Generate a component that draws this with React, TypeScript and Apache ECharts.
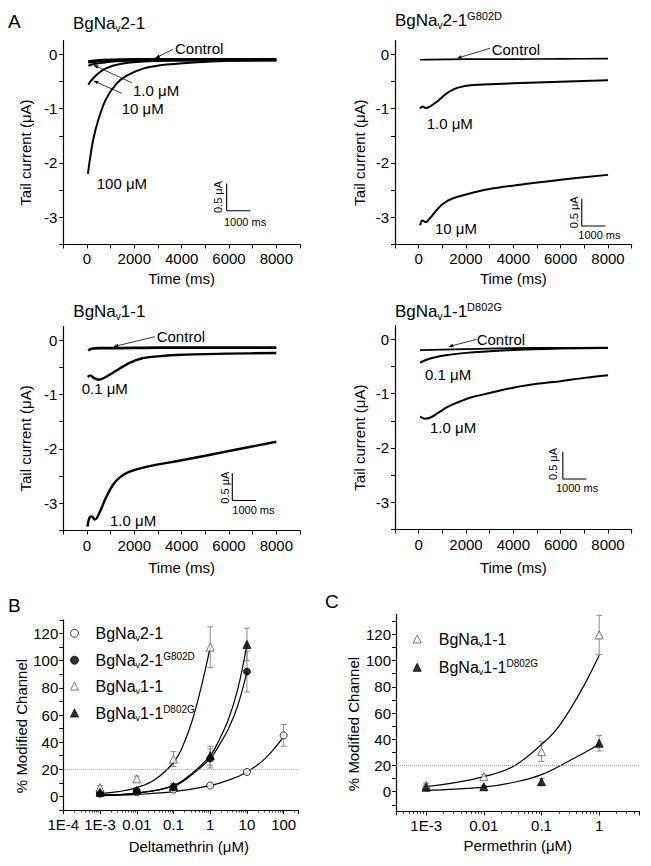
import React, { useEffect, useRef } from "react";
import * as echarts from "echarts";

const FONT = "'Liberation Sans', Arial, Helvetica, sans-serif";

// ---------------- Panel A: tail current traces (time ms, current μA) ----------------
// A1 BgNav2-1
const a1ControlT = [50, 500, 1000, 2000, 4000, 6000, 8000];
const a1ControlI = [-0.14, -0.12, -0.11, -0.1, -0.1, -0.1, -0.1];
const a1Dose1T = [60, 300, 700, 1200, 1800, 2500, 4000, 8000];
const a1Dose1I = [-0.21, -0.18, -0.155, -0.13, -0.115, -0.105, -0.1, -0.1];
const a1Dose10T = [60, 150, 400, 800, 1400, 2400, 3800, 5500, 8000];
const a1Dose10I = [-0.56, -0.5, -0.38, -0.26, -0.18, -0.135, -0.115, -0.105, -0.1];
const a1Dose100T = [40, 120, 250, 470, 800, 1250, 1700, 2400, 3100, 4500, 6000, 8000];
const a1Dose100I = [-2.2, -1.95, -1.6, -1.22, -0.83, -0.54, -0.39, -0.26, -0.2, -0.15, -0.12, -0.11];

// A2 BgNav2-1 G802D
const a2ControlT = [60, 2000, 4000, 6000, 8000];
const a2ControlI = [-0.1, -0.09, -0.09, -0.085, -0.08];
const a2Dose1T = [60, 150, 300, 450, 750, 1150, 1500, 1800, 2200, 3000, 5000, 8000];
const a2Dose1I = [-1.0, -0.96, -0.99, -0.97, -0.88, -0.73, -0.64, -0.6, -0.57, -0.55, -0.52, -0.48];
const a2Dose10T = [60, 150, 300, 450, 700, 1000, 1400, 2000, 3000, 4500, 6000, 8000];
const a2Dose10I = [-3.15, -3.06, -3.09, -3.03, -2.9, -2.76, -2.66, -2.58, -2.48, -2.39, -2.31, -2.22];

// A3 BgNav1-1
const a3ControlT = [50, 200, 500, 1000, 3000, 6000, 8000];
const a3ControlI = [-0.19, -0.16, -0.15, -0.15, -0.14, -0.14, -0.14];
const a3Dose01T = [30, 150, 300, 500, 800, 1100, 1400, 1800, 2300, 3000, 4000, 6000, 8000];
const a3Dose01I = [-0.68, -0.65, -0.7, -0.73, -0.68, -0.6, -0.52, -0.42, -0.34, -0.3, -0.27, -0.25, -0.24];
const a3Dose1T = [20, 100, 200, 330, 550, 800, 1100, 1400, 1800, 2500, 4000, 6000, 8000];
const a3Dose1I = [-3.43, -3.27, -3.24, -3.3, -3.15, -2.9, -2.66, -2.52, -2.42, -2.33, -2.21, -2.04, -1.87];

// A4 BgNav1-1 D802G
const a4ControlT = [60, 1000, 3000, 5000, 8000];
const a4ControlI = [-0.2, -0.19, -0.17, -0.16, -0.155];
const a4Dose01T = [60, 300, 700, 1200, 2000, 3000, 4500, 6000, 8000];
const a4Dose01I = [-0.43, -0.38, -0.33, -0.29, -0.25, -0.22, -0.19, -0.17, -0.16];
const a4Dose1T = [60, 250, 500, 800, 1200, 1600, 2200, 3000, 4000, 5000, 6000, 7000, 8000];
const a4Dose1I = [-1.42, -1.46, -1.44, -1.36, -1.25, -1.17, -1.07, -0.99, -0.89, -0.82, -0.77, -0.71, -0.66];

// scale bars (0.5 μA x 1000 ms), in data units
const scaleBarA1 = [[5900, -2.38], [5900, -2.88], [6900, -2.88]];
const scaleBarA2 = [[6890, -2.66], [6890, -3.16], [7890, -3.16]];
const scaleBarA3 = [[6140, -2.45], [6140, -2.95], [7140, -2.95]];
const scaleBarA4 = [[6090, -2.07], [6090, -2.57], [7090, -2.57]];

// ---------------- Panel B: deltamethrin dose response ----------------
const concB6 = [0.001, 0.01, 0.1, 1, 10, 100];
const concB5 = [0.001, 0.01, 0.1, 1, 10];
const concB4 = [0.001, 0.01, 0.1, 1];
const bV21 = [2, 3, 5, 8, 18, 45];
const bV21Err = [1, 1, 1, 1, 1.5, 8];
const bG802D = [3, 4, 7, 28, 92];
const bG802DErr = [1, 1, 1.5, 7, 15];
const bV11 = [6.5, 13, 27.5, 110];
const bV11Err = [1.5, 2, 5.5, 15];
const bD802G = [3, 4.5, 7.5, 30, 112];
const bD802GErr = [1, 1, 2, 7, 12];

const fitBV21Conc = [0.001, 0.01, 0.1, 1, 3.16, 10, 31.6, 100];
const fitBV21Val = [0.5, 1.5, 3.5, 8, 12, 18, 28, 44];
const fitBG802DConc = [0.001, 0.01, 0.1, 0.316, 1, 1.78, 3.16, 5.62, 10];
const fitBG802DVal = [1, 2.5, 7.5, 16, 28, 38, 50, 67, 92];
const fitBV11Conc = [0.001, 0.00316, 0.01, 0.0316, 0.1, 0.178, 0.316, 0.562, 1];
const fitBV11Val = [2, 3.5, 6.5, 12.5, 25, 37, 55, 80, 110];
const fitBD802GConc = [0.001, 0.01, 0.1, 0.316, 1, 1.78, 3.16, 5.62, 10];
const fitBD802GVal = [1, 2.5, 8, 17, 30, 42, 57, 79, 112];

// ---------------- Panel C: permethrin dose response ----------------
const concC = [0.001, 0.01, 0.1, 1];
const cV11 = [5, 11.5, 30.5, 119.5];
const cV11Err = [1.5, 1.5, 7.5, 15];
const cD802G = [3.4, 3.8, 7.6, 37];
const cD802GErr = [1, 1, 2.5, 6];
const fitCV11Conc = [0.001, 0.00316, 0.01, 0.0316, 0.1, 0.178, 0.316, 0.562, 1];
const fitCV11Val = [4, 7, 11.5, 19, 36, 47, 63, 82, 104];
const fitCD802GConc = [0.001, 0.00316, 0.01, 0.0316, 0.1, 0.316, 1];
const fitCD802GVal = [1, 2, 3.5, 7, 13, 24, 36];

// ---------------- tick values / labels ----------------
const timeTicks = [-1000, 0, 1000, 2000, 3000, 4000, 5000, 6000, 7000, 8000, 9000];
const timeLabels = [0, 2000, 4000, 6000, 8000];
const currentTicks = [-3.5, -3, -2.5, -2, -1.5, -1, -0.5, 0];
const currentLabels = [-3, -2, -1, 0];
const pctTicks = [-10, 0, 10, 20, 30, 40, 50, 60, 70, 80, 90, 100, 110, 120, 130];
const pctLabels = [0, 20, 40, 60, 80, 100, 120];
const decadeNames = ["1E-4", "1E-3", "0.01", "0.1", "1", "10", "100"];
const minorMultipliers = [2, 3, 4, 5, 6, 7, 8, 9];

const zip = (xs: number[], ys: number[]) => xs.map((x, i) => [x, ys[i]]);

const grids = [
  { left: 63.3, top: 40.7, width: 236.7, height: 203.7 },
  { left: 395, top: 40.7, width: 236.7, height: 203.7 },
  { left: 63.3, top: 326.4, width: 236.7, height: 204.1 },
  { left: 395, top: 325.7, width: 236.7, height: 203.8 },
  { left: 63.3, top: 620, width: 235, height: 190 },
  { left: 396, top: 614.6, width: 243.5, height: 196.8 },
];

const B_MIN = 1e-4, B_MAX = 250, C_MIN = 3e-4, C_MAX = 5;

function minorLogTicks(lo: number, hi: number) {
  const out: number[] = [];
  const l0 = Math.log10(lo), l1 = Math.log10(hi);
  for (let d = Math.floor(l0); d <= Math.ceil(l1); d++) {
    for (const k of minorMultipliers) {
      const l = Math.log10(k) + d;
      if (l > l0 + 1e-6 && l < l1 - 1e-6) out.push(l);
    }
  }
  return out;
}

const axisText = { fontSize: 14, color: "#000", fontFamily: FONT };
const nameText = { fontSize: 15, color: "#000", fontFamily: FONT };
const lineStyleBlack = { color: "#000", width: 1.2 };
const plain = (v: number) => String(v);

function timeAxis(gi: number, nameGap: number) {
  return {
    type: "value", gridIndex: gi, min: -1000, max: 9000,
    axisLine: { show: true, onZero: false, lineStyle: lineStyleBlack },
    axisTick: { show: true, customValues: timeTicks, length: 4, lineStyle: { color: "#000", width: 1 } },
    axisLabel: { customValues: timeLabels, ...axisText, fontSize: 15, margin: 7, formatter: plain },
    splitLine: { show: false },
    name: "Time (ms)", nameLocation: "middle", nameGap, nameTextStyle: nameText,
  };
}
function currentAxis(gi: number, nameGap: number) {
  return {
    type: "value", gridIndex: gi, min: -3.5, max: 0.25,
    axisLine: { show: true, onZero: false, lineStyle: lineStyleBlack },
    axisTick: { show: true, customValues: currentTicks, length: 4, lineStyle: { color: "#000", width: 1 } },
    axisLabel: { customValues: currentLabels, ...axisText, fontSize: 15, margin: 6, formatter: plain },
    splitLine: { show: false },
    name: "Tail current (μA)", nameLocation: "middle", nameGap, nameRotate: 90,
    nameTextStyle: { ...nameText, padding: [0, 20, 0, 0] },
  };
}
function pctAxis(gi: number, min: number, max: number, nameGap: number) {
  return {
    type: "value", gridIndex: gi, min, max,
    axisLine: { show: true, onZero: false, lineStyle: lineStyleBlack },
    axisTick: { show: true, customValues: pctTicks, length: 4, lineStyle: { color: "#000", width: 1 } },
    axisLabel: { customValues: pctLabels, ...axisText, fontSize: 15, margin: 5, formatter: plain },
    splitLine: { show: false },
    name: "% Modified Channel", nameLocation: "middle", nameGap, nameRotate: 90,
    nameTextStyle: { ...nameText, padding: [0, 22, 0, 0] },
  };
}
function decadeLabel(v: number) {
  const l = Math.log10(v);
  const e = Math.round(l);
  if (Math.abs(l - e) > 0.02) return "";
  return decadeNames[e + 4] ?? "";
}
function logAxis(gi: number, min: number, max: number, name: string, nameGap: number, pad: number[]) {
  return {
    type: "log", logBase: 10, gridIndex: gi, min, max,
    axisLine: { show: true, onZero: false, lineStyle: lineStyleBlack },
    axisTick: { show: true, length: 4, lineStyle: { color: "#000", width: 1 } },
    axisLabel: { ...axisText, fontSize: 15, margin: 7, formatter: decadeLabel, hideOverlap: false },
    splitLine: { show: false },
    name, nameLocation: "middle", nameGap, nameTextStyle: { ...nameText, padding: pad },
  };
}
function minorLogAxis(gi: number, min: number, max: number, height: number) {
  return {
    type: "value", gridIndex: gi, min: Math.log10(min), max: Math.log10(max),
    position: "top", offset: -height, silent: true,
    axisLine: { show: false },
    axisTick: { show: true, inside: true, length: 2.5, customValues: minorLogTicks(min, max), lineStyle: { color: "#000", width: 0.8 } },
    axisLabel: { show: false },
    splitLine: { show: false },
  };
}

function trace(gi: number, t: number[], I: number[], width = 2, smooth = 0.3) {
  return {
    type: "line", xAxisIndex: gi, yAxisIndex: gi, data: zip(t, I),
    symbol: "none", showSymbol: false, smooth, silent: true,
    lineStyle: { color: "#000", width }, z: 2,
  };
}
function scaleBar(gi: number, pts: number[][]) {
  return {
    type: "line", xAxisIndex: gi, yAxisIndex: gi, data: pts, symbol: "none",
    silent: true, lineStyle: { color: "#000", width: 1.1 }, z: 2,
  };
}
function fit(gi: number, c: number[], v: number[], extra: any = {}) {
  return {
    type: "line", xAxisIndex: gi, yAxisIndex: gi, data: zip(c, v),
    symbol: "none", showSymbol: false, smooth: 0.4, silent: true,
    lineStyle: { color: "#000", width: 1.2 }, z: 3, ...extra,
  };
}
function errBars(gi: number, c: number[], v: number[], e: number[]) {
  return {
    type: "custom", xAxisIndex: gi, yAxisIndex: gi, silent: true, z: 1,
    data: c.map((x, i) => [x, v[i], e[i]]),
    encode: { x: 0, y: 1 },
    renderItem: (params: any, api: any) => {
      const x = api.value(0), y = api.value(1), er = api.value(2);
      const top = api.coord([x, y + er]);
      const bot = api.coord([x, y - er]);
      const hw = 3;
      const st = { stroke: "#8a8a8a", lineWidth: 1 };
      return {
        type: "group",
        children: [
          { type: "line", shape: { x1: top[0], y1: top[1], x2: bot[0], y2: bot[1] }, style: st },
          { type: "line", shape: { x1: top[0] - hw, y1: top[1], x2: top[0] + hw, y2: top[1] }, style: st },
          { type: "line", shape: { x1: bot[0] - hw, y1: bot[1], x2: bot[0] + hw, y2: bot[1] }, style: st },
        ],
      };
    },
  };
}
const openCircle = { color: "#fff", borderColor: "#000", borderWidth: 1 };
const filledBlack = { color: "#000", borderColor: "#000", borderWidth: 1 };
const openTri = { color: "#fff", borderColor: "#555", borderWidth: 1 };
function scatter(gi: number, name: string, c: number[], v: number[], symbol: string, size: number, itemStyle: any) {
  return {
    type: "scatter", name, xAxisIndex: gi, yAxisIndex: gi, data: zip(c, v),
    symbol, symbolSize: size, itemStyle, silent: true, z: 5,
  };
}

// ---- graphic helpers ----
function txt(x: number, y: number, text: string, size = 15, align = "left") {
  return {
    type: "text", x, y, silent: true,
    style: { text, fontSize: size, fontFamily: FONT, fill: "#000", align, verticalAlign: "middle" },
  };
}
function vtxt(x: number, y: number, text: string, size = 11) {
  return {
    type: "text", x, y, rotation: Math.PI / 2, silent: true,
    style: { text, fontSize: size, fontFamily: FONT, fill: "#000", align: "center", verticalAlign: "middle" },
  };
}
function arrow(x1: number, y1: number, x2: number, y2: number) {
  const ang = Math.atan2(y2 - y1, x2 - x1);
  const L = 5, W = 1.8;
  const bx = x2 - L * Math.cos(ang), by = y2 - L * Math.sin(ang);
  const nx = -Math.sin(ang) * W, ny = Math.cos(ang) * W;
  return [
    { type: "line", silent: true, shape: { x1, y1, x2: bx, y2: by }, style: { stroke: "#000", lineWidth: 0.8 } },
    { type: "polygon", silent: true, shape: { points: [[x2, y2], [bx + nx, by + ny], [bx - nx, by - ny]] }, style: { fill: "#000" } },
  ];
}
const titleRich = {
  n: { fontSize: 17, fontFamily: FONT, fill: "#000", lineHeight: 20 },
  s: { fontSize: 10, fontFamily: FONT, fill: "#000", lineHeight: 10, verticalAlign: "bottom" },
  p: { fontSize: 11, fontFamily: FONT, fill: "#000", lineHeight: 10, verticalAlign: "top" },
};
function title(x: number, y: number, text: string) {
  return {
    type: "text", x, y, silent: true,
    style: { text, rich: titleRich, align: "left", verticalAlign: "middle", fontFamily: FONT, fontSize: 17, fill: "#000" },
  };
}

const legendRichText: Record<string, string> = {
  "BgNav2-1": "{g|}{n|BgNa}{s|v}{n|2-1}",
  "BgNav2-1G802D": "{g|}{n|BgNa}{s|v}{n|2-1}{p|G802D}",
  "BgNav1-1": "{g|}{n|BgNa}{s|v}{n|1-1}",
  "BgNav1-1D802G": "{g|}{n|BgNa}{s|v}{n|1-1}{p|D802G}",
};
function legendRich(gap: number) {
  return {
    g: { width: gap },
    n: { fontSize: 16, fontFamily: FONT, color: "#000", lineHeight: 18 },
    s: { fontSize: 9, fontFamily: FONT, color: "#000", lineHeight: 9, verticalAlign: "bottom" },
    p: { fontSize: 10, fontFamily: FONT, color: "#000", lineHeight: 9, verticalAlign: "top" },
  };
}

export default function App() {
  const ref = useRef<HTMLDivElement>(null);
  useEffect(() => {
    if (!ref.current) return;
    const chart = echarts.init(ref.current, null, { renderer: "svg" });
    const option: any = {
      animation: false,
      backgroundColor: "#fff",
      grid: grids.map((g) => ({ ...g, containLabel: false, outerBoundsMode: "none" })),
      xAxis: [
        timeAxis(0, 27),
        timeAxis(1, 27),
        timeAxis(2, 29),
        timeAxis(3, 30),
        logAxis(4, B_MIN, B_MAX, "Deltamethrin (μM)", 29, [0, 0, 0, 16]),
        logAxis(5, C_MIN, C_MAX, "Permethrin (μM)", 27, [0, 0, 0, 0]),
        minorLogAxis(4, B_MIN, B_MAX, grids[4].height),
        minorLogAxis(5, C_MIN, C_MAX, grids[5].height),
      ],
      yAxis: [
        currentAxis(0, 30),
        currentAxis(1, 28),
        currentAxis(2, 30),
        currentAxis(3, 28),
        pctAxis(4, -10, 130, 32),
        pctAxis(5, -15, 135, 35),
      ],
      legend: [
        {
          orient: "vertical", left: 70, top: 625.3, itemWidth: 8, itemHeight: 8, itemGap: 8.9,
          selectedMode: false, padding: 0,
          data: [
            { name: "BgNav2-1", icon: "circle", itemStyle: openCircle },
            { name: "BgNav2-1G802D", icon: "circle", itemStyle: filledBlack },
            { name: "BgNav1-1", icon: "triangle", itemStyle: openTri },
            { name: "BgNav1-1D802G", icon: "triangle", itemStyle: filledBlack },
          ],
          formatter: (name: string) => legendRichText[name] || name,
          textStyle: { rich: legendRich(12) },
        },
        {
          orient: "vertical", left: 412.7, top: 631, itemWidth: 8, itemHeight: 8, itemGap: 10.3,
          selectedMode: false, padding: 0,
          data: [
            { name: "BgNav1-1", icon: "triangle", itemStyle: openTri },
            { name: "BgNav1-1D802G", icon: "triangle", itemStyle: filledBlack },
          ],
          formatter: (name: string) => legendRichText[name] || name,
          textStyle: { rich: legendRich(12.6) },
        },
      ],
      series: [
        // A1
        trace(0, a1Dose100T, a1Dose100I),
        trace(0, a1Dose10T, a1Dose10I),
        trace(0, a1Dose1T, a1Dose1I),
        trace(0, a1ControlT, a1ControlI, 3.5),
        scaleBar(0, scaleBarA1),
        // A2
        trace(1, a2ControlT, a2ControlI, 1.6),
        trace(1, a2Dose1T, a2Dose1I),
        trace(1, a2Dose10T, a2Dose10I),
        scaleBar(1, scaleBarA2),
        // A3
        trace(2, a3ControlT, a3ControlI, 2.6),
        trace(2, a3Dose01T, a3Dose01I, 2.4),
        trace(2, a3Dose1T, a3Dose1I, 2.4, 0.4),
        scaleBar(2, scaleBarA3),
        // A4
        trace(3, a4ControlT, a4ControlI, 1.8),
        trace(3, a4Dose01T, a4Dose01I),
        trace(3, a4Dose1T, a4Dose1I),
        scaleBar(3, scaleBarA4),
        // B
        errBars(4, concB6, bV21, bV21Err),
        errBars(4, concB5, bG802D, bG802DErr),
        errBars(4, concB4, bV11, bV11Err),
        errBars(4, concB5, bD802G, bD802GErr),
        fit(4, fitBV21Conc, fitBV21Val, {
          markLine: {
            silent: true, symbol: "none", label: { show: false },
            lineStyle: { type: "dotted", color: "#999", width: 1 },
            data: [{ yAxis: 20 }],
          },
        }),
        fit(4, fitBG802DConc, fitBG802DVal),
        fit(4, fitBV11Conc, fitBV11Val),
        fit(4, fitBD802GConc, fitBD802GVal),
        scatter(4, "BgNav2-1", concB6, bV21, "circle", 7, openCircle),
        scatter(4, "BgNav2-1G802D", concB5, bG802D, "circle", 7, filledBlack),
        scatter(4, "BgNav1-1", concB4, bV11, "triangle", 8, openTri),
        scatter(4, "BgNav1-1D802G", concB5, bD802G, "triangle", 8, filledBlack),
        // C
        errBars(5, concC, cV11, cV11Err),
        errBars(5, concC, cD802G, cD802GErr),
        fit(5, fitCV11Conc, fitCV11Val, {
          markLine: {
            silent: true, symbol: "none", label: { show: false },
            lineStyle: { type: "dotted", color: "#999", width: 1 },
            data: [{ yAxis: 20 }],
          },
        }),
        fit(5, fitCD802GConc, fitCD802GVal),
        scatter(5, "BgNav1-1", concC, cV11, "triangle", 8, openTri),
        scatter(5, "BgNav1-1D802G", concC, cD802G, "triangle", 8, filledBlack),
      ],
      graphic: [
        txt(8, 21.7, "A", 19),
        txt(8, 605, "B", 19),
        txt(325, 601.7, "C", 19),
        title(73, 23, "{n|BgNa}{s|v}{n|2-1}"),
        title(395, 20, "{n|BgNa}{s|v}{n|2-1}{p|G802D}"),
        title(73.3, 311.7, "{n|BgNa}{s|v}{n|1-1}"),
        title(395, 311.7, "{n|BgNa}{s|v}{n|1-1}{p|D802G}"),
        // A1 annotations
        txt(175, 48, "Control"),
        ...arrow(173, 49.3, 155, 58.3),
        txt(133, 90, "1.0 μM"),
        ...arrow(131.7, 82.7, 93.3, 65),
        txt(121.7, 108.3, "10 μM"),
        ...arrow(121.7, 93.3, 93.3, 80.7),
        txt(96.7, 183, "100 μM"),
        vtxt(218.3, 197, "0.5 μA"),
        txt(224, 221.7, "1000 ms", 11),
        // A2 annotations
        txt(491.7, 49.3, "Control"),
        ...arrow(490, 48.3, 456.7, 58.3),
        txt(426.7, 123.3, "1.0 μM"),
        txt(435, 228.3, "10 μM"),
        vtxt(574.3, 212.3, "0.5 μA"),
        txt(578.3, 235, "1000 ms", 11),
        // A3 annotations
        txt(156.7, 336.7, "Control"),
        ...arrow(155, 336.7, 113.3, 346.7),
        txt(81.7, 388, "0.1 μM"),
        txt(110, 520, "1.0 μM"),
        vtxt(225, 487.7, "0.5 μA"),
        txt(232.3, 510, "1000 ms", 11),
        // A4 annotations
        txt(476.7, 339.3, "Control"),
        ...arrow(476.7, 339.3, 448.3, 346.7),
        txt(425, 374, "0.1 μM"),
        txt(430, 427.7, "1.0 μM"),
        vtxt(553.3, 464, "0.5 μA"),
        txt(556, 487.7, "1000 ms", 11),
      ],
    };
    chart.setOption(option);
    return () => chart.dispose();
  }, []);
  return (
    <div
      ref={ref}
      style={{ position: "absolute", left: 0, top: 0, width: 651, height: 866, background: "#fff" }}
    />
  );
}
